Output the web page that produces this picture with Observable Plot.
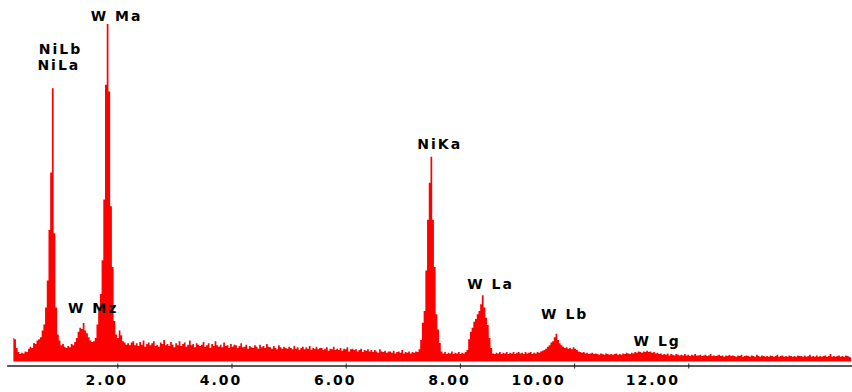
<!DOCTYPE html>
<html>
<head>
<meta charset="utf-8">
<script src="https://cdn.jsdelivr.net/npm/d3@7"></script>
<script src="https://cdn.jsdelivr.net/npm/@observablehq/plot@0.6"></script>
<style>
  html, body { margin: 0; padding: 0; background: #fff; }
</style>
</head>
<body>
<div id="chart"></div>
<script>
// Spectrum channels: first channel energy (keV) and channel width (keV)
const startKeV = 0.18;
const stepKeV = 0.03;
// counts per channel, 10 channels (0.30 keV) per row
const counts = [
  70, 66, 40, 28, 22, 26, 24, 30, 28, 38,          // 0.18
  44, 40, 55, 52, 62, 66, 72, 92, 110, 160,        // 0.48
  240, 390, 560, 810, 380, 160, 80, 62, 48, 52,    // 0.78
  44, 40, 46, 42, 52, 48, 58, 70, 88, 100,         // 1.08
  96, 114, 92, 84, 72, 62, 58, 60, 70, 110,        // 1.38
  150, 200, 300, 480, 820, 1000, 800, 460, 280, 120, // 1.68
  80, 70, 92, 78, 60, 56, 50, 54, 48, 56,          // 1.98
  60, 48, 54, 46, 58, 50, 62, 44, 52, 56,          // 2.28
  48, 54, 60, 46, 50, 44, 56, 52, 64, 48,          // 2.58
  52, 46, 58, 50, 42, 54, 48, 60, 46, 52,          // 2.88
  56, 44, 50, 62, 48, 52, 42, 54, 50, 46,          // 3.18
  50, 58, 44, 48, 54, 40, 52, 46, 60, 48,          // 3.48
  44, 50, 42, 56, 46, 48, 40, 52, 44, 50,          // 3.78
  48, 40, 46, 54, 42, 44, 50, 38, 46, 42,          // 4.08
  40, 48, 44, 38, 50, 42, 46, 40, 52, 44,          // 4.38
  42, 38, 46, 40, 36, 48, 42, 38, 44, 40,          // 4.68
  38, 44, 40, 36, 46, 38, 42, 34, 40, 44,          // 4.98
  36, 42, 38, 46, 34, 40, 38, 44, 36, 40,          // 5.28
  40, 34, 38, 42, 32, 38, 36, 44, 34, 38,          // 5.58
  34, 40, 32, 38, 36, 42, 30, 36, 38, 34,          // 5.88
  36, 30, 34, 38, 28, 34, 32, 36, 30, 34,          // 6.18
  28, 34, 30, 26, 36, 30, 28, 32, 26, 30,          // 6.48
  30, 26, 32, 24, 28, 30, 26, 34, 24, 28,          // 6.78
  26, 30, 24, 28, 26, 30, 28, 36, 64, 115,         // 7.08
  150, 270, 420, 530, 607, 420, 280, 140, 95, 55,  // 7.38
  30, 24, 28, 22, 26, 24, 30, 22, 26, 24,          // 7.68
  28, 22, 26, 24, 28, 34, 66, 88, 100, 118,        // 7.98
  126, 140, 150, 170, 196, 160, 130, 108, 70, 40,  // 8.28
  24, 22, 26, 24, 28, 22, 26, 24, 28, 22,          // 8.58
  26, 24, 28, 22, 26, 28, 24, 26, 22, 28,          // 8.88
  24, 26, 28, 22, 26, 24, 28, 26, 30, 32,          // 9.18
  34, 38, 44, 48, 56, 60, 72, 82, 64, 54,          // 9.48
  48, 44, 40, 42, 38, 40, 36, 42, 38, 34,          // 9.78
  30, 28, 26, 28, 24, 26, 22, 24, 26, 22,          // 10.08
  24, 22, 20, 24, 22, 20, 24, 22, 20, 22,          // 10.38
  20, 22, 24, 20, 22, 20, 24, 22, 26, 24,          // 10.68
  22, 26, 24, 28, 26, 30, 28, 26, 30, 28,          // 10.98
  32, 28, 30, 26, 28, 24, 26, 22, 24, 20,          // 11.28
  22, 20, 24, 18, 22, 20, 18, 22, 20, 18,          // 11.58
  20, 18, 22, 18, 20, 16, 20, 18, 22, 18,          // 11.88
  18, 20, 16, 18, 20, 16, 18, 22, 16, 18,          // 12.18
  16, 18, 20, 16, 18, 14, 18, 16, 20, 16,          // 12.48
  18, 16, 14, 18, 16, 20, 14, 16, 18, 16,          // 12.78
  14, 18, 16, 14, 20, 16, 14, 18, 16, 14,          // 13.08
  16, 14, 18, 16, 14, 16, 20, 14, 16, 18,          // 13.38
  14, 16, 14, 18, 16, 14, 16, 14, 18, 16,          // 13.68
  16, 14, 18, 14, 16, 20, 14, 16, 14, 18,          // 13.98
  14, 16, 14, 16, 18, 14, 16, 22, 14, 16,          // 14.28
  14, 16, 18, 14, 16, 14, 18, 16, 14, 12           // 14.58
];

// Axis ticks
const tickValues = [2, 4, 6, 8, 10, 12];
const tickLabels = ["2.00", "4.00", "6.00", "8.00", "10.00", "12.00"];

// Peak annotations: label, energy (keV), counts at label baseline
const peakLabels = ["W Ma", "NiLb", "NiLa", "W Mz", "NiKa", "W La", "W Lb", "W Lg"];
const peakKeV    = [1.96, 0.98, 0.95, 1.55, 7.62, 8.51, 9.81, 11.43];
const peakCounts = [1009, 914, 864, 145, 632, 215, 126, 46];

const spectrum = counts.map((c, i) => ({E: startKeV + i * stepKeV, c}));
const annotations = peakLabels.map((t, i) => ({t, E: peakKeV[i], c: peakCounts[i]}));
const ticks = tickValues.map((v, i) => ({v, label: tickLabels[i]}));

const font = {fontFamily: "DejaVu Sans", fontWeight: "bold", fontSize: 14, fill: "#000"};

const chart = Plot.plot({
  width: 852,
  height: 392,
  marginLeft: 3.1,
  marginRight: 0,
  marginTop: 24,
  marginBottom: 30.5,
  style: {background: "#fff", fontFamily: "DejaVu Sans", letterSpacing: "2px", wordSpacing: "0px"},
  x: {domain: [0, 14.867], axis: null},
  y: {domain: [0, 1000], axis: null},
  marks: [
    Plot.areaY(spectrum, {x: "E", y: "c", curve: "step", fill: "#ff0000"}),
    Plot.ruleY([0], {dy: 4, stroke: "#222", strokeWidth: 1.4, insetLeft: 4}),
    Plot.axisX({ticks: tickValues, tickSize: 5, dy: 2, tickFormat: () => "", stroke: "#222"}),
    Plot.text(ticks.slice(0, 4), {x: "v", text: "label", frameAnchor: "bottom", lineAnchor: "middle", dy: 18.5, dx: -11, ...font}),
    Plot.text(ticks.slice(4), {x: "v", text: "label", frameAnchor: "bottom", lineAnchor: "middle", dy: 18.5, dx: -36, ...font}),
    Plot.text(annotations, {x: "E", y: "c", text: "t", lineAnchor: "bottom", dx: 1, ...font})
  ]
});
document.getElementById("chart").appendChild(chart);
</script>
</body>
</html>
